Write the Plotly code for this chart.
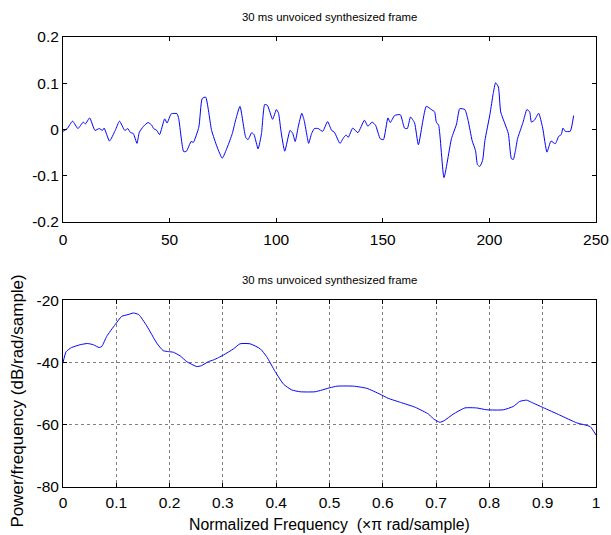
import plotly.graph_objects as go

# ---- Top panel: time-domain frame (sample index, amplitude) ----
sample_idx = [0, 2, 4.5, 7, 9.5, 10.5, 12.5, 15, 17, 18.5, 19.3, 21.8, 24.5, 26.5, 29, 30.4,
              31.5, 33, 34.7, 35.8, 37.8, 39.9, 41.5, 42.5, 44, 45.3, 47.7, 48.8, 50.8, 53.5,
              54.3, 56.6, 57.9, 60.1, 61.1, 63.7, 65.3, 66.9, 69.7, 72.3, 74.7, 77.1, 79.4,
              81, 83, 85.7, 86.8, 88.5, 89.6, 91.5, 93.1, 94.6, 95.9, 98.3, 100.1, 101.1,
              102.2, 104, 106.5, 107.7, 108.9, 110.3, 112, 113.1, 114.7, 115.2, 116.6, 117.9,
              119.7, 121.8, 124.1, 126, 127.3, 129.9, 131.7, 132.8, 133.8, 135.9, 138.3,
              141.4, 143, 145, 146.6, 148.8, 150.3, 152.4, 153.5, 155.5, 158.2, 160.2, 161.5,
              163, 164.9, 166.7, 170.4, 172.8, 174.3, 175.1, 176.2, 178.7, 182.2, 184.6,
              186.1, 188.5, 190, 191.9, 193.5, 194.4, 195.5, 196.8, 197.9, 200.3, 201.8,
              202.9, 204.2, 205.3, 207.3, 208.9, 210.3, 211.2, 212.2, 213.2, 214.8, 215.8,
              217.6, 218.9, 219.7, 221.1, 223.1, 225, 227, 228.9, 230.9, 232.5, 233.7, 234.5,
              235.6, 237.9, 239.5]
amplitude = [-0.004, 0.002, 0.018, 0.002, 0.016, 0.012, 0.025, -0.002, 0.002, -0.002, 0.003,
             -0.025, -0.002, 0.018, -0.002, 0.002, -0.006, -0.009, -0.030, -0.006, 0.007,
             0.015, 0.010, 0.002, -0.002, -0.011, 0.023, 0.014, 0.034, 0.034, 0.023, -0.048,
             -0.047, -0.026, -0.028, 0.005, 0.067, 0.070, -0.002, -0.038, -0.062, -0.038,
             -0.009, 0.021, 0.050, -0.017, -0.022, -0.007, -0.011, -0.042, -0.009, 0.054,
             0.052, 0.022, 0.043, 0.035, -0.002, -0.047, -0.002, -0.008, -0.026, 0.005,
             0.035, 0.020, -0.020, -0.030, -0.009, 0.002, 0.002, -0.004, 0.017, -0.002,
             -0.006, -0.030, -0.017, -0.012, -0.017, 0.003, -0.007, 0.020, 0.007, 0.016,
             0.009, -0.020, -0.022, 0.025, 0.015, 0.030, 0.032, 0.003, 0.002, 0.027, 0.014,
             -0.033, 0.050, 0.043, 0.038, 0.016, 0.009, -0.104, -0.020, 0.012, 0.045, 0.043,
             0.020, -0.024, -0.046, -0.076, -0.080, -0.067, -0.024, 0.034, 0.078, 0.101,
             0.092, 0.038, 0.012, -0.009, -0.063, -0.065, -0.046, -0.020, 0.002, 0.016,
             0.043, 0.038, 0.016, 0.020, 0.035, 0.003, -0.049, -0.025, -0.031, -0.015,
             -0.011, 0.003, -0.004, -0.004, 0.030]

# ---- Bottom panel: PSD (normalized freq, dB/rad/sample) ----
norm_freq = [0, 0.006, 0.016, 0.032, 0.046, 0.057, 0.068, 0.073, 0.082, 0.098, 0.110, 0.122,
             0.132, 0.142, 0.157, 0.176, 0.188, 0.198, 0.207, 0.220, 0.232, 0.251, 0.260,
             0.273, 0.282, 0.292, 0.301, 0.320, 0.332, 0.351, 0.370, 0.382, 0.398, 0.414,
             0.429, 0.445, 0.473, 0.501, 0.514, 0.545, 0.570, 0.595, 0.610, 0.633, 0.661,
             0.686, 0.695, 0.707, 0.715, 0.732, 0.754, 0.776, 0.795, 0.826, 0.845, 0.857,
             0.870, 0.879, 0.901, 0.932, 0.964, 0.989, 1.0]
psd_db = [-40.0, -36.5, -35.2, -34.3, -33.9, -34.3, -35.2, -34.8, -31.6, -27.8, -25.2, -24.6,
          -24.1, -24.6, -28.2, -33.8, -36.2, -36.5, -36.7, -37.9, -39.7, -41.3, -41.0, -39.7,
          -39.2, -38.4, -37.6, -35.6, -34.0, -34.0, -35.6, -38.1, -42.9, -47.0, -48.8, -49.4,
          -49.4, -48.1, -47.6, -47.6, -48.3, -50.2, -51.5, -52.8, -54.4, -56.6, -58.1, -59.2,
          -58.7, -56.6, -54.6, -54.6, -55.2, -55.2, -54.1, -52.5, -52.1, -52.8, -54.5, -56.9,
          -59.4, -60.6, -63.3]

top_xticks = [0, 50, 100, 150, 200, 250]
top_yticks = [-0.2, -0.1, 0, 0.1, 0.2]
top_yticktext = ["-0.2", "-0.1", "0", "0.1", "0.2"]
bot_xticks = [0, 0.1, 0.2, 0.3, 0.4, 0.5, 0.6, 0.7, 0.8, 0.9, 1]
bot_xticktext = ["0", "0.1", "0.2", "0.3", "0.4", "0.5", "0.6", "0.7", "0.8", "0.9", "1"]
bot_yticks = [-80, -60, -40, -20]
bot_yticktext = ["-80", "-60", "-40", "-20"]

title_text = "30 ms unvoiced synthesized frame"
xlabel_bot = "Normalized Frequency  (\u00d7\u03c0 rad/sample)"
ylabel_bot = "Power/frequency (dB/rad/sample)"

FONT = "Liberation Sans, Arial, sans-serif"
TICK_SIZE = 15.5

fig = go.Figure()
fig.add_trace(go.Scatter(x=sample_idx, y=amplitude, mode="lines",
                         line=dict(color="#0000ff", width=1, shape="spline", smoothing=0.5),
                         xaxis="x", yaxis="y", showlegend=False, hoverinfo="skip"))
fig.add_trace(go.Scatter(x=norm_freq, y=psd_db, mode="lines",
                         line=dict(color="#0000ff", width=1, shape="spline", smoothing=0.5),
                         xaxis="x2", yaxis="y2", showlegend=False, hoverinfo="skip"))

axis_common = dict(showline=True, linecolor="black", linewidth=1, mirror="ticks",
                   ticks="inside", ticklen=4, tickcolor="black", zeroline=False,
                   automargin=False,
                   tickfont=dict(family=FONT, size=TICK_SIZE, color="black"))

fig.update_layout(
    width=611, height=535,
    margin=dict(l=63, r=15, t=37, b=48),
    paper_bgcolor="white", plot_bgcolor="white",
    font=dict(family=FONT, size=13, color="black"),
    xaxis=dict(domain=[0, 1], anchor="y", range=[0, 250], tickvals=top_xticks,
               ticklabelstandoff=3, showgrid=False, **axis_common),
    yaxis=dict(domain=[0.589, 1], anchor="x", range=[-0.2, 0.2], tickvals=top_yticks,
               ticktext=top_yticktext, showgrid=False, **axis_common),
    xaxis2=dict(domain=[0, 1], anchor="y2", range=[0, 1], tickvals=bot_xticks,
                ticktext=bot_xticktext, showgrid=True, gridcolor="#808080", griddash="dot",
                gridwidth=1, ticklabelstandoff=1, **axis_common),
    yaxis2=dict(domain=[0, 0.415], anchor="x2", range=[-80, -20], tickvals=bot_yticks,
                ticktext=bot_yticktext, showgrid=True, gridcolor="#808080", griddash="dot",
                gridwidth=1, **axis_common),
    annotations=[
        dict(text=title_text, xref="paper", yref="paper", x=0.5, y=1.0, yshift=20,
             xanchor="center", yanchor="middle", showarrow=False,
             font=dict(family=FONT, size=11.4, color="black")),
        dict(text=title_text, xref="paper", yref="paper", x=0.5, y=0.415, yshift=20,
             xanchor="center", yanchor="middle", showarrow=False,
             font=dict(family=FONT, size=11.4, color="black")),
        dict(text=xlabel_bot, xref="paper", yref="paper", x=0.5, y=0, yshift=-37,
             xanchor="center", yanchor="middle", showarrow=False,
             font=dict(family=FONT, size=15.8, color="black")),
        dict(text=ylabel_bot, xref="paper", yref="paper", x=0, xshift=-46, y=0.19,
             xanchor="center", yanchor="middle", textangle=-90, showarrow=False,
             font=dict(family=FONT, size=17, color="black")),
    ],
)

fig.write_html(
    "out.html",
    config={"displayModeBar": False},
    post_script="document.body.style.margin='0';document.body.style.overflow='hidden';",
)
